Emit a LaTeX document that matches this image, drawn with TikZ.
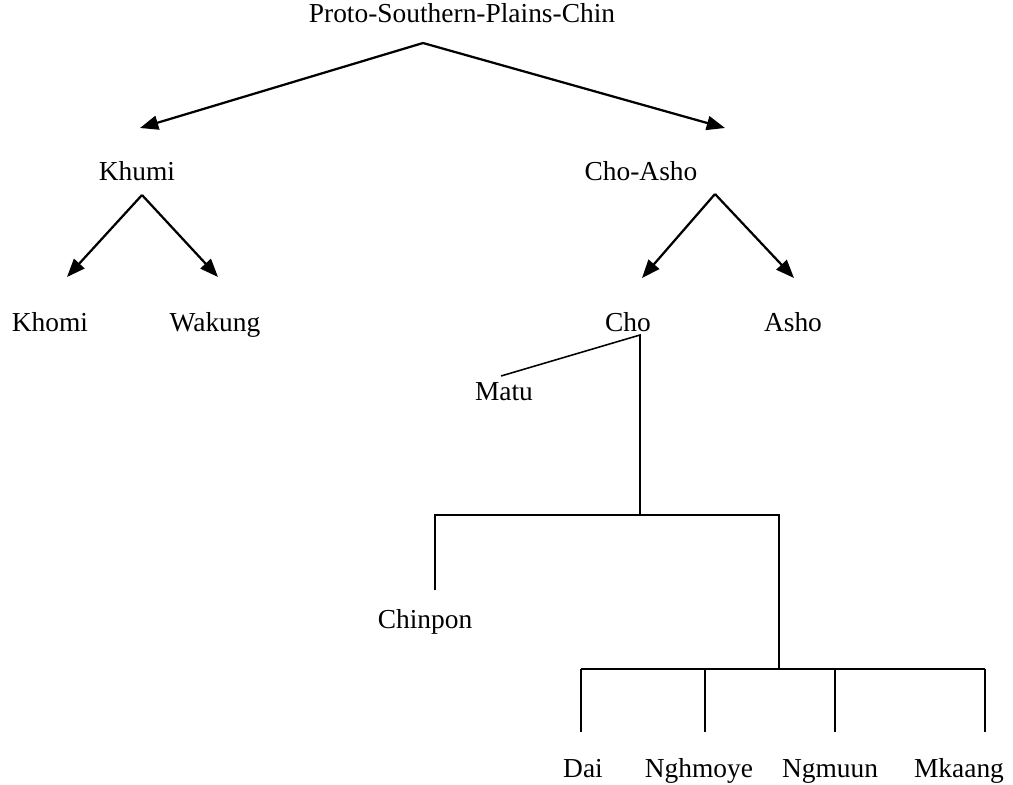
\documentclass[tikz,border=0pt]{standalone}
\usepackage{fontspec}
\setmainfont{Liberation Serif}
\usetikzlibrary{arrows.meta}
\newcommand\Split[3]{%
    \draw[branch] (#1) -- (#2);
    \draw[branch] (#1) -- (#3);
}
\tikzset{
    lang/.style={anchor=base, inner sep=0pt, font=\fontsize{19.5}{23}\selectfont},
    branch/.style={line width=1.6pt, -{Triangle[length=13pt,width=10pt]}},
    rake/.style={line width=1.1pt},
}

\begin{document}
\begin{tikzpicture}[x=0.025cm, y=-0.025cm]
    \useasboundingbox (0,0) rectangle (1013,784);
    % languages
    \node[lang] (Proto) at (462,22) {Proto-Southern-Plains-Chin};
    \node[lang] (Khumi) at (137,180) {Khumi};
    \node[lang] (ChoAsho) at (641,180) {Cho-Asho};
    \node[lang] (Khomi) at (50,331) {Khomi};
    \node[lang] (Wakung) at (215,331) {Wakung};
    \node[lang] (Cho) at (628,331) {Cho};
    \node[lang] (Asho) at (793,331) {Asho};
    \node[lang] (Matu) at (504,400) {Matu};
    \node[lang] (Chinpon) at (425,628) {Chinpon};
    \node[lang] (Dai) at (583,777) {Dai};
    \node[lang] (Nghmoye) at (699,777) {Nghmoye};
    \node[lang] (Ngmuun) at (830,777) {Ngmuun};
    \node[lang] (Mkaang) at (959,777) {Mkaang};
    % arrows
    \coordinate (ProtoTop) at (423,43);
    \coordinate (KhumiTip) at (140,128);
    \coordinate (ChoAshoTip) at (725,128);
    \Split{ProtoTop}{KhumiTip}{ChoAshoTip}
    \coordinate (KhumiTop) at (142,195);
    \coordinate (KhomiTip) at (67,277);
    \coordinate (WakungTip) at (218,277);
    \Split{KhumiTop}{KhomiTip}{WakungTip}
    \coordinate (ChoAshoTop) at (715,194);
    \coordinate (ChoTip) at (642,278);
    \coordinate (AshoTip) at (794,278);
    \Split{ChoAshoTop}{ChoTip}{AshoTip}
    % Cho
    \coordinate (ChoFoot) at (640,335);
    \coordinate (MatuEnd) at (501,376);
    \coordinate (ChoJoin) at (640,515);
    \coordinate (ChinponEnd) at (435,590);
    \coordinate (LowJoin) at (779,669);
    \draw[rake] (MatuEnd) -- (ChoFoot) -- (ChoJoin);
    \draw[rake] (ChinponEnd) |- (ChoJoin) -| (LowJoin);
    \foreach \name/\x in {Dai/581, Nghmoye/705, Ngmuun/835, Mkaang/985}{
        \coordinate (\name End) at (\x,732);
        \draw[rake] (\name End) -- (\name End |- LowJoin);
    }
    \draw[rake] (DaiEnd |- LowJoin) -- (MkaangEnd |- LowJoin);
\end{tikzpicture}
\end{document}
